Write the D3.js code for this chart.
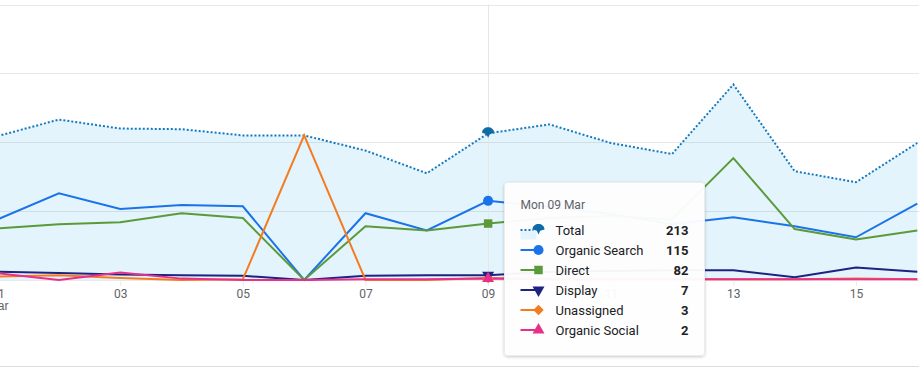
<!DOCTYPE html>
<html>
<head>
<meta charset="utf-8">
<script src="https://cdn.jsdelivr.net/npm/d3@7"></script>
<style>
body { margin: 0; background: #fff; overflow: hidden; }
svg { display: block; font-family: Roboto, "Noto Sans", sans-serif; }
</style>
</head>
<body>
<div class="svg-container"></div>
<script>
// chart data
var days = [1, 2, 3, 4, 5, 6, 7, 8, 9, 10, 11, 12, 13, 14, 15, 16];
var tickDays = [1, 3, 5, 7, 9, 11, 13, 15];
var monthLabel = "Mar";
var hoverDay = 9;
var hoverTitle = "Mon 09 Mar";

var total      = [209, 233, 220, 219, 210, 210, 188, 155, 213, 226, 199, 183, 284, 158, 142, 199];
var organic    = [88, 126, 103, 109, 107, 0, 97, 72, 115, 106, 96, 81, 91, 78, 62, 111];
var direct     = [75, 81, 84, 97, 90, 0, 78, 72, 82, 90, 93, 88, 177, 74, 59, 72];
var display    = [12, 10, 8, 7, 6, 0, 6, 7, 7, 12, 13, 14, 14, 4, 18, 12];
var unassigned = [5, 7, 3, 0, 1, 210, 0, 0, 3, 1, 1, 1, 1, 1, 2, 1];
var social     = [10, 0, 11, 2, 0, 0, 1, 1, 2, 1, 1, 1, 1, 1, 1, 1];

var yTicks = [0, 100, 200, 300, 400];

var seriesNames  = ["Total", "Organic Search", "Direct", "Display", "Unassigned", "Organic Social"];
var seriesColors = ["#1479c0", "#1a73e8", "#5b9a38", "#1c2380", "#f47c20", "#e8308a"];
var seriesData   = [total, organic, direct, display, unassigned, social];
var seriesShapes = ["pin", "circle", "square", "down", "diamond", "triangle"];

var pageWidth = 919, pageHeight = 369;

var svg = d3.select(".svg-container")
	.append("svg")
	.attr("width", pageWidth)
	.attr("height", pageHeight);

var x = d3.scaleLinear().domain([1, 16]).range([-2.4, 917.3]);
var y = d3.scaleLinear().domain([0, 400]).range([280, 4.6]);

// shadow for tooltip
var defs = svg.append("defs");
var filt = defs.append("filter").attr("id", "shadow")
	.attr("x", "-10%").attr("y", "-10%").attr("width", "120%").attr("height", "125%");
filt.append("feDropShadow").attr("dx", 0).attr("dy", 1).attr("stdDeviation", 1.5)
	.attr("flood-color", "#000").attr("flood-opacity", 0.22);

// area under total
var area = d3.area()
	.x(function(d, i) { return x(days[i]); })
	.y0(y(0))
	.y1(function(d) { return y(d); });

svg.append("path")
	.datum(total)
	.attr("fill", "#e3f4fd")
	.attr("d", area);

// gridlines
svg.append("g")
	.selectAll("line")
	.data(yTicks)
	.enter()
	.append("line")
	.attr("x1", 0).attr("x2", pageWidth)
	.attr("y1", function(d) { return Math.round(y(d)) + 0.5; })
	.attr("y2", function(d) { return Math.round(y(d)) + 0.5; })
	.attr("stroke", "rgba(0,0,0,0.09)")
	.attr("stroke-width", 1);

// bottom rule
svg.append("line")
	.attr("x1", 0).attr("x2", pageWidth)
	.attr("y1", 366.5).attr("y2", 366.5)
	.attr("stroke", "#dadce0");

// hover guide
svg.append("line")
	.attr("x1", Math.round(x(hoverDay)) + 0.5).attr("x2", Math.round(x(hoverDay)) + 0.5)
	.attr("y1", y(400)).attr("y2", y(0))
	.attr("stroke", "#e6e6e6");

// x axis
var xAxis = d3.axisBottom(x)
	.tickValues(tickDays)
	.tickSize(6)
	.tickPadding(3)
	.tickFormat(function(d) { return d3.format("02d")(d); });

var gx = svg.append("g")
	.attr("transform", "translate(0," + y(0) + ")")
	.call(xAxis);
gx.select(".domain").remove();
gx.selectAll(".tick line").attr("stroke", "#ececec");
gx.selectAll(".tick text")
	.attr("fill", "#5f6368")
	.attr("font-size", "12px")
	.attr("font-family", "Roboto, sans-serif");
gx.select(".tick text").each(function() {
	d3.select(this.parentNode).append("text")
		.attr("y", 21)
		.attr("dy", "0.71em")
		.attr("fill", "#5f6368")
		.attr("font-size", "12px")
		.attr("text-anchor", "middle")
		.text(monthLabel);
});

// lines
function lineFor() {
	return d3.line()
		.x(function(d, i) { return x(days[i]); })
		.y(function(d) { return y(d); });
}

svg.append("path")
	.datum(total)
	.attr("fill", "none")
	.attr("stroke", seriesColors[0])
	.attr("stroke-width", 2)
	.attr("stroke-dasharray", "2,2")
	.attr("d", lineFor());

for (var s = 1; s < seriesData.length; s++) {
	svg.append("path")
		.datum(seriesData[s])
		.attr("fill", "none")
		.attr("stroke", seriesColors[s])
		.attr("stroke-width", 2)
		.attr("stroke-linejoin", "miter")
		.attr("d", lineFor());
}

// marker shapes
function markerPath(shape, size) {
	if (shape == "pin") {
		var w = size * 0.6;
		return "M" + (-w) + ",0.5 C" + (-w) + "," + (-w * 1.15) + " " + w + "," + (-w * 1.15) + " " + w + ",0.5" +
			" L1.7,1.8 L0," + (size * 0.55) + " L-1.7,1.8 Z";
	}
	if (shape == "diamond") {
		var h = size * 0.52;
		return "M0," + (-h) + " L" + h + ",0 L0," + h + " L" + (-h) + ",0 Z";
	}
	var t = {circle: d3.symbolCircle, square: d3.symbolSquare, down: d3.symbolTriangle,
		triangle: d3.symbolTriangle}[shape];
	var areaSize = {circle: size * size * 0.8, square: size * size * 0.72, down: size * size * 0.62,
		triangle: size * size * 0.62}[shape];
	return d3.symbol().type(t).size(areaSize)();
}

var hi = days.indexOf(hoverDay);
var order = [1, 2, 4, 3, 5, 0];
order.forEach(function(s) {
	var cx = x(hoverDay), cy = y(seriesData[s][hi]);
	var rot = seriesShapes[s] == "down" ? " rotate(180)" : "";
	if (seriesShapes[s] == "pin") cy = cy - 1;
	svg.append("path")
		.attr("d", markerPath(seriesShapes[s], 10))
		.attr("transform", "translate(" + cx + "," + cy + ")" + rot)
		.attr("fill", s == 0 ? "#0f6aa8" : seriesColors[s]);
});

// tooltip
var tip = svg.append("g").attr("transform", "translate(504.5,182.5)");
tip.append("rect")
	.attr("width", 200).attr("height", 173)
	.attr("rx", 3)
	.attr("fill", "#fff")
	.attr("fill-opacity", 0.95)
	.attr("stroke", "#ececec")
	.attr("filter", "url(#shadow)");

tip.append("text")
	.attr("x", 16).attr("y", 26.5)
	.attr("fill", "#5f6368")
	.attr("font-size", "12px")
	.text(hoverTitle);

seriesNames.forEach(function(name, s) {
	var rowY = 47.5 + s * 20;
	var row = tip.append("g").attr("transform", "translate(0," + rowY + ")");
	if (s == 0) {
		row.append("rect").attr("x", 16).attr("y", 1).attr("width", 16).attr("height", 8.5)
			.attr("fill", "#e3f4fd");
		row.append("line").attr("x1", 16).attr("x2", 29).attr("y1", 0).attr("y2", 0)
			.attr("stroke", seriesColors[0]).attr("stroke-width", 2).attr("stroke-dasharray", "2,2");
	} else {
		row.append("line").attr("x1", 16).attr("x2", 31).attr("y1", 0).attr("y2", 0)
			.attr("stroke", seriesColors[s]).attr("stroke-width", 2);
	}
	var rot = seriesShapes[s] == "down" ? " rotate(180)" : "";
	row.append("path")
		.attr("d", markerPath(seriesShapes[s], 10))
		.attr("transform", "translate(34," + (s == 0 ? -1 : 0) + ")" + rot)
		.attr("fill", s == 0 ? "#0f6aa8" : seriesColors[s]);
	row.append("text")
		.attr("x", 51).attr("y", 4.5)
		.attr("fill", "#202124")
		.attr("font-size", "13px")
		.text(name);
	row.append("text")
		.attr("x", 184).attr("y", 4.5)
		.attr("text-anchor", "end")
		.attr("fill", "#202124")
		.attr("font-size", "13px")
		.attr("font-weight", "bold")
		.text(seriesData[s][hi]);
});
</script>
</body>
</html>
